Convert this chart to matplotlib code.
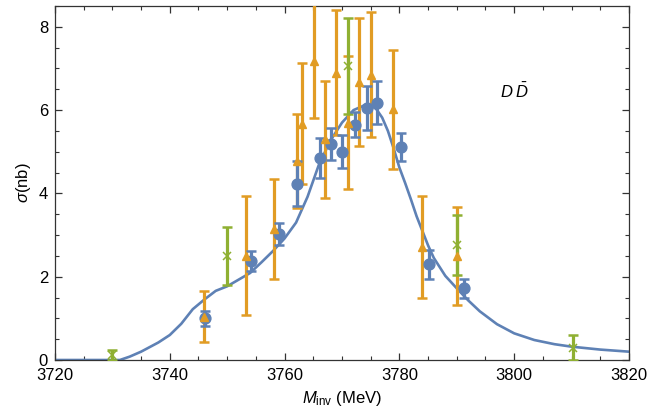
import numpy as np
import matplotlib
matplotlib.use('Agg')
import matplotlib.pyplot as plt
from matplotlib.ticker import MultipleLocator

plt.rcParams['font.family'] = ['Liberation Sans', 'DejaVu Sans']
plt.rcParams['mathtext.fontset'] = 'custom'
plt.rcParams['mathtext.rm'] = 'Liberation Sans'
plt.rcParams['mathtext.it'] = 'Liberation Sans:italic'

BLUE = '#5E81B5'
ORANGE = '#E19C24'
GREEN = '#8FB032'

# theory curve
curve_x = [3720, 3725, 3730, 3731.3, 3733, 3735, 3738, 3740, 3742, 3744, 3746, 3748,
           3750, 3752, 3754, 3756, 3758, 3760, 3762, 3764, 3766, 3768, 3770, 3772,
           3774, 3775, 3776, 3777, 3778, 3779, 3780, 3781, 3782, 3783, 3784, 3785,
           3786, 3788, 3790, 3792, 3794, 3797, 3800, 3803.5, 3807, 3810, 3815, 3820]
curve_y = [0, 0, 0, 0, 0.08, 0.2, 0.42, 0.6, 0.87, 1.22, 1.45, 1.66,
           1.77, 1.93, 2.09, 2.35, 2.62, 2.92, 3.3, 3.92, 4.7, 5.27, 5.7, 6.0,
           6.12, 6.12, 6.02, 5.82, 5.5, 5.08, 4.62, 4.25, 3.86, 3.45, 3.1, 2.75,
           2.45, 2.02, 1.72, 1.43, 1.17, 0.86, 0.64, 0.48, 0.38, 0.32, 0.25, 0.2]

# blue data (circles)
bx = [3746.2, 3754.2, 3759.0, 3762.1, 3766.1, 3768.1, 3770.0, 3772.2, 3774.3, 3776.1, 3780.2, 3785.2, 3791.3]
by = [1.0, 2.37, 3.02, 4.23, 4.85, 5.18, 5.0, 5.65, 6.06, 6.18, 5.12, 2.3, 1.72]
be = [0.18, 0.24, 0.26, 0.54, 0.47, 0.38, 0.4, 0.3, 0.53, 0.52, 0.34, 0.35, 0.23]

# orange data (triangles)
ox = [3746.0, 3753.2, 3758.1, 3762.1, 3763.0, 3765.1, 3767.0, 3768.9, 3771.0, 3773.0, 3775.1, 3778.9, 3784.0, 3790.1]
oy = [1.04, 2.5, 3.15, 4.78, 5.67, 7.19, 5.3, 6.9, 5.7, 6.68, 6.85, 6.02, 2.71, 2.5]
oe = [0.61, 1.43, 1.2, 1.12, 1.45, 1.37, 1.4, 1.5, 1.6, 1.53, 1.5, 1.43, 1.23, 1.18]

# green data (crosses)
gx = [3730, 3750, 3771, 3790, 3810.3]
gy = [0.11, 2.5, 7.05, 2.75, 0.3]
ge = [0.12, 0.7, 1.15, 0.72, 0.3]

fig = plt.figure(figsize=(6.5, 4.15), dpi=100)
ax = fig.add_axes([55/650, 55/415, 574/650, 354/415])

ax.plot(curve_x, curve_y, color=BLUE, lw=1.9, zorder=2)

ax.errorbar(ox, oy, yerr=oe, fmt='none', ecolor=ORANGE, elinewidth=2.3,
            capsize=3.4, capthick=1.8, zorder=3)
ax.errorbar(gx, gy, yerr=ge, fmt='none', ecolor=GREEN, elinewidth=2.3,
            capsize=3.4, capthick=1.8, zorder=4)
ax.errorbar(bx, by, yerr=be, fmt='none', ecolor=BLUE, elinewidth=2.3,
            capsize=3.4, capthick=1.8, zorder=5)
ax.plot(bx, by, 'o', color=BLUE, ms=7.8, zorder=6, ls='none')
ax.plot(ox, oy, '^', color=ORANGE, ms=6, zorder=7, ls='none')
ax.plot(gx, gy, 'x', color=GREEN, ms=6, mew=1.1, zorder=8, ls='none')

ax.set_xlim(3720, 3820)
ax.set_ylim(0, 8.5)
ax.xaxis.set_major_locator(MultipleLocator(20))
ax.xaxis.set_minor_locator(MultipleLocator(5))
ax.yaxis.set_major_locator(MultipleLocator(2))
ax.yaxis.set_minor_locator(MultipleLocator(0.5))
ax.tick_params(which='both', direction='in', top=True, right=True, color='#333333', labelsize=12)
ax.tick_params(which='major', length=5, width=0.9)
ax.tick_params(which='minor', length=3, width=0.8)
ax.tick_params(axis='x', pad=6)
ax.tick_params(axis='y', pad=5)
for s in ax.spines.values():
    s.set_color('#333333')
    s.set_linewidth(0.9)

ax.set_xlabel(r'$M_{\mathrm{inv}}$ (MeV)', fontsize=12, labelpad=4)
ax.set_ylabel(r'$\sigma$(nb)', fontsize=12, labelpad=4)
ax.text(3800.1, 6.45, r'$D\;\bar{D}$', fontsize=12, ha='center', va='center')

fig.savefig('out.png', dpi=100)
